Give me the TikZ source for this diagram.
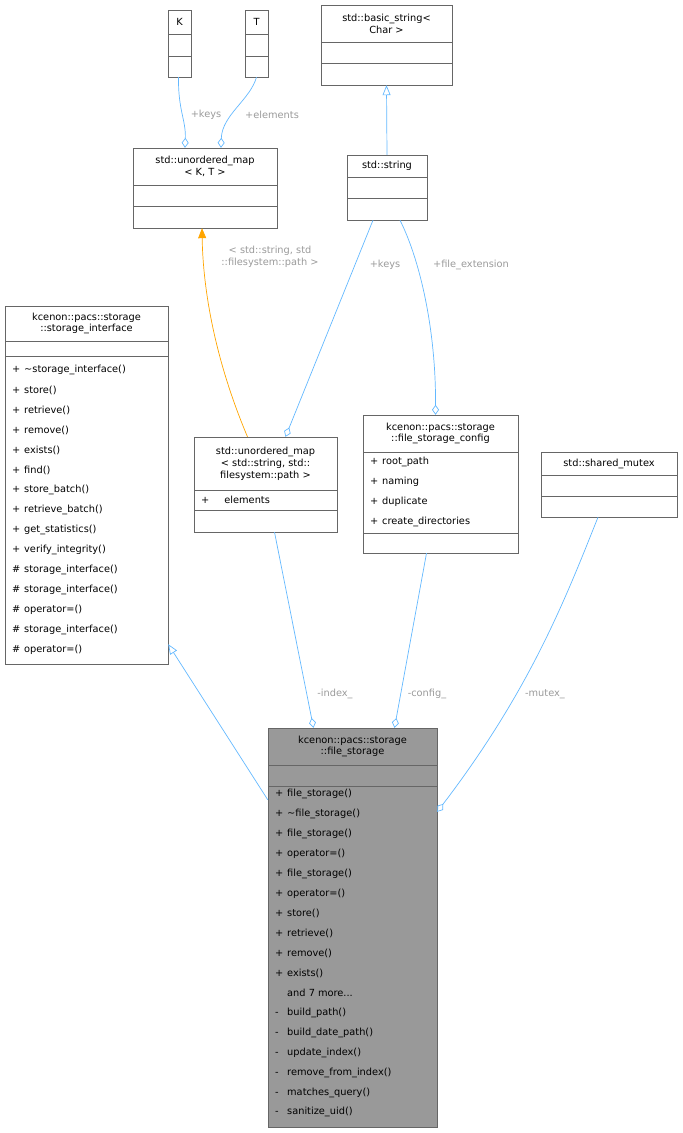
\documentclass[tikz,border=0pt]{standalone}
\usepackage{fontspec}
\setmainfont{DejaVu Sans}
\usetikzlibrary{arrows.meta}
\definecolor{edge}{HTML}{63B8FF}
\definecolor{lbl}{HTML}{9A9A9A}
\definecolor{bord}{HTML}{666666}
\definecolor{tmpl}{HTML}{FFA500}
\newcommand\mem[2]{\makebox[12pt][l]{#1}#2}
\newcommand\moremeth{and 7 more...}
\begin{document}
\begin{tikzpicture}[x=1pt,y=-1pt,
 box/.style={draw=bord,line width=0.7pt,fill=white},
 sep/.style={draw=bord,line width=0.7pt},
 txt/.style={inner sep=0pt,font=\fontsize{9.8}{11.8}\selectfont},
 ttl/.style={txt,align=center},
 m/.style={txt,anchor=west},
 el/.style={txt,text=lbl},
 ln/.style={draw=edge,line width=0.7pt},
 dia/.style={ln,-{Diamond[open,length=10pt,width=7pt]}},
 inh/.style={ln,-{Triangle[open,length=10pt,width=8pt]}}]
\useasboundingbox (0,0) rectangle (683,1133);
% K
\path[box] (168,10) rectangle (191,77); \node[minimum width=23pt,minimum height=67pt,inner sep=0] (K) at (179.5,43.5) {};
\draw[sep] (168,34)--(191,34) (168,56)--(191,56);
\node[ttl] at (179.5,22) {K};
% T
\path[box] (245,10) rectangle (268,77); \node[minimum width=23pt,minimum height=67pt,inner sep=0] (T) at (256.5,43.5) {};
\draw[sep] (245,34)--(268,34) (245,56)--(268,56);
\node[ttl] at (256.5,22) {T};
% basic_string
\path[box] (321,5) rectangle (452,85); \node[minimum width=131pt,minimum height=80pt,inner sep=0] (bs) at (386.5,45) {};
\draw[sep] (321,42)--(452,42) (321,63)--(452,63);
\node[ttl] at (386.5,23.5) {std::basic\_string\textless\\Char \textgreater};
% std::string
\path[box] (347,155) rectangle (427,220); \node[minimum width=80pt,minimum height=65pt,inner sep=0] (str) at (387,187.5) {};
\draw[sep] (347,177)--(427,177) (347,198)--(427,198);
\node[ttl] at (387,166) {std::string};
% unordered_map K,T
\path[box] (133,148) rectangle (277,228); \node[minimum width=144pt,minimum height=80pt,inner sep=0] (umap) at (205,188) {};
\draw[sep] (133,185)--(277,185) (133,206)--(277,206);
\node[ttl] at (205,166.5) {std::unordered\_map\\\textless{} K, T \textgreater};
% storage_interface
\path[box] (5,306) rectangle (168,664); \node[minimum width=163pt,minimum height=358pt,inner sep=0] (si) at (86.5,485) {};
\draw[sep] (5,341)--(168,341) (5,356)--(168,356);
\node[ttl] at (86.5,323.5) {kcenon::pacs::storage\\::storage\_interface};
\foreach \a/\b [count=\i from 0] in {{+}/{\textasciitilde storage\_interface()},{+}/store(),{+}/retrieve(),{+}/remove(),{+}/exists(),{+}/find(),{+}/store\_batch(),{+}/retrieve\_batch(),{+}/get\_statistics(),{+}/verify\_integrity(),{\#}/storage\_interface(),{\#}/storage\_interface(),{\#}/operator=(),{\#}/storage\_interface(),{\#}/operator=()}{
 \node[m] at (12,370+20*\i) {\mem{\a}{\b}};}
% unordered_map string path
\path[box] (194,437) rectangle (337,532); \node[minimum width=143pt,minimum height=95pt,inner sep=0] (umap2) at (265.5,484.5) {};
\draw[sep] (194,490)--(337,490) (194,510)--(337,510);
\node[ttl] at (265.5,463.5) {std::unordered\_map\\\textless{} std::string, std::\\filesystem::path \textgreater};
\node[m] at (201,499.5) {+\hspace{15pt}elements};
% file_storage_config
\path[box] (363,415) rectangle (518,553); \node[minimum width=155pt,minimum height=138pt,inner sep=0] (cfg) at (440.5,484) {};
\draw[sep] (363,452)--(518,452) (363,533)--(518,533);
\node[ttl] at (440.5,433.5) {kcenon::pacs::storage\\::file\_storage\_config};
\node[m] at (370,462) {\mem{+}{root\_path}};
\node[m] at (370,482) {\mem{+}{naming}};
\node[m] at (370,502) {\mem{+}{duplicate}};
\node[m] at (370,522) {\mem{+}{create\_directories}};
% shared_mutex
\path[box] (541,452) rectangle (677,517); \node[minimum width=136pt,minimum height=65pt,inner sep=0] (mtx) at (609,484.5) {};
\draw[sep] (541,475)--(677,475) (541,496)--(677,496);
\node[ttl] at (609,463.5) {std::shared\_mutex};
% file_storage
\path[box,fill=black!40] (268,728) rectangle (437,1127); \node[minimum width=169pt,minimum height=399pt,inner sep=0] (fs) at (352.5,927.5) {};
\draw[sep] (268,765)--(437,765) (268,786)--(437,786);
\node[ttl] at (352.5,746.5) {kcenon::pacs::storage\\::file\_storage};
\foreach \a/\b [count=\i from 0] in {{+}/file\_storage(),{+}/{\textasciitilde file\_storage()},{+}/file\_storage(),{+}/operator=(),{+}/file\_storage(),{+}/operator=(),{+}/store(),{+}/retrieve(),{+}/remove(),{+}/exists(),{}/\moremeth,{-}/build\_path(),{-}/build\_date\_path(),{-}/update\_index(),{-}/remove\_from\_index(),{-}/matches\_query(),{-}/sanitize\_uid()}{
 \node[m] at (275,794+19.9*\i) {\mem{\a}{\b}};}
% edges
\draw[dia] ([xshift=-1pt]K.south) .. controls (178,110) and (186,120) .. ([xshift=-20pt]umap.north);
\node[el] at (206,115) {+keys};
\draw[dia] (T.south) .. controls (250,100) and (222,115) .. ([xshift=16pt]umap.north);
\node[el] at (272,115) {+elements};
\draw[inh] (str.north) -- (bs.south);
\draw[ln,draw=tmpl,-{Triangle[length=10pt,width=8pt]}] ([xshift=-18pt]umap2.north) .. controls (215,360) and (203,290) .. ([xshift=-3pt]umap.south);
\node[el,align=center] at (270,257) {\textless{} std::string, std\\::filesystem::path \textgreater};
\draw[dia] ([xshift=-14pt]str.south) -- ([xshift=20pt]umap2.north);
\node[el] at (385,265) {+keys};
\draw[dia] ([xshift=13pt]str.south) .. controls (420,260) and (436,330) .. ([xshift=-5pt]cfg.north);
\node[el] at (471,265) {+file\_extension};
\draw[inh] ([yshift=-72pt]fs.north west) -- ([yshift=20pt]si.south east);
\draw[dia] ([xshift=9pt]umap2.south) -- ([xshift=-39pt]fs.north);
\node[el] at (335,694) {-index\_};
\draw[dia] ([xshift=-14pt]cfg.south) -- ([xshift=42pt]fs.north);
\node[el] at (427,694) {-config\_};
\draw[dia] ([xshift=-11pt]mtx.south) .. controls (565,600) and (530,690) .. ([yshift=-84pt]fs.north east);
\node[el] at (545,694) {-mutex\_};
\end{tikzpicture}
\end{document}
